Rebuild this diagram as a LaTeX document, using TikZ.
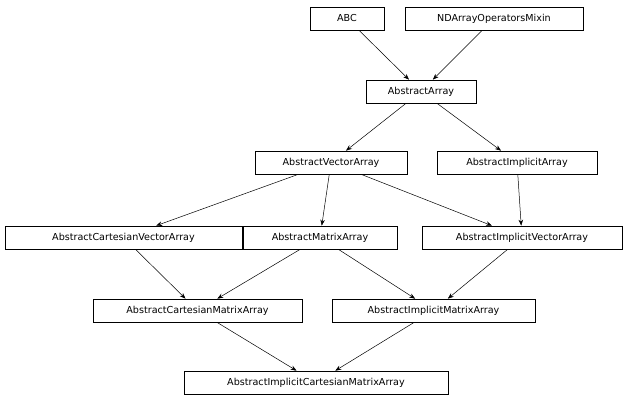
\documentclass[tikz,border=0pt]{standalone}
\usepackage{fontspec}
\setmainfont{DejaVu Sans}
\usetikzlibrary{arrows.meta}
\begin{document}
\begin{tikzpicture}[x=1pt,y=-1pt,
  box/.style={draw,line width=0.6pt,minimum height=23pt,minimum width=#1,inner sep=0pt,font=\fontsize{9.6}{11}\selectfont},
  edge/.style={-{Stealth[length=6pt,width=4.5pt]},line width=0.5pt}]
\useasboundingbox (0,0) rectangle (628,403);
\node[box=74pt] (abc) at (347,18.5) {ABC};
\node[box=178pt] (nda) at (494,18.5) {NDArrayOperatorsMixin};
\node[box=110pt] (aa) at (421,91.5) {AbstractArray};
\node[box=152pt] (ava) at (331,162.5) {AbstractVectorArray};
\node[box=160pt] (aia) at (517,162.5) {AbstractImplicitArray};
\node[box=237pt] (acva) at (123.5,237.5) {AbstractCartesianVectorArray};
\node[box=154pt] (ama) at (320,237.5) {AbstractMatrixArray};
\node[box=200pt] (aiva) at (522,237.5) {AbstractImplicitVectorArray};
\node[box=209pt] (acma) at (197.5,310.5) {AbstractCartesianMatrixArray};
\node[box=203pt] (aima) at (433.5,310.5) {AbstractImplicitMatrixArray};
\node[box=264pt] (aicma) at (316,382.5) {AbstractImplicitCartesianMatrixArray};
\draw[edge] (abc) -- (aa);
\draw[edge] (nda) -- (aa);
\draw[edge] (aa) -- (ava);
\draw[edge] (aa) -- (aia);
\draw[edge] (ava) -- (acva);
\draw[edge] (ava) -- (ama);
\draw[edge] (ava) -- (aiva);
\draw[edge] (aia) -- (aiva);
\draw[edge] (acva) -- (acma);
\draw[edge] (ama) -- (acma);
\draw[edge] (ama) -- (aima);
\draw[edge] (aiva) -- (aima);
\draw[edge] (acma) -- (aicma);
\draw[edge] (aima) -- (aicma);
\end{tikzpicture}
\end{document}
